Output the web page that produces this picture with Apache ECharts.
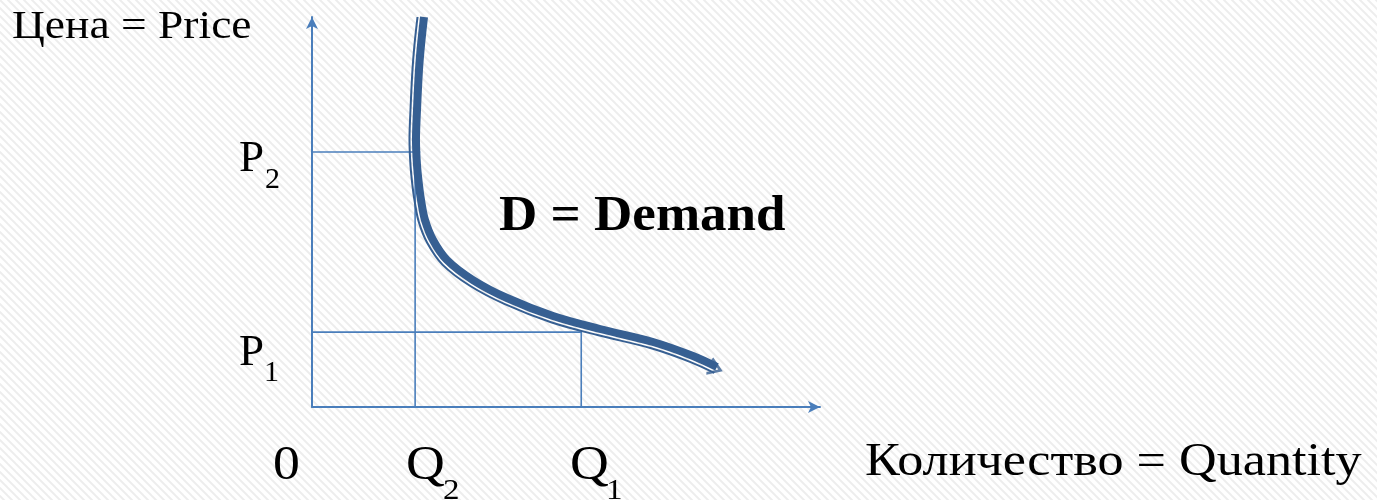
<!DOCTYPE html>
<html>
<head>
<meta charset="utf-8">
<style>
  html, body { margin: 0; padding: 0; background: #fff; }
  #main { width: 1377px; height: 500px; }
</style>
<script src="https://cdn.jsdelivr.net/npm/echarts@6/dist/echarts.min.js"></script>
</head>
<body>
<div id="main"></div>
<script>
// demand curve, outer (thick) stroke
var demandQ = [22.05, 21.46, 21.06, 20.67, 20.47, 20.67, 21.06, 21.46, 22.24, 23.82, 26.57, 31.69, 38.39, 47.44, 56.69, 67.13, 75.0, 79.72];
var demandP = [100, 92.82, 86.41, 76.15, 68.46, 62.05, 56.92, 53.08, 47.95, 42.82, 37.69, 32.56, 27.95, 23.33, 20.0, 16.67, 13.08, 10.26];
// demand curve, inner (thin) stroke
var innerQ = [20.77, 20.18, 19.78, 19.39, 19.19, 19.39, 19.78, 20.20, 21.02, 22.70, 25.67, 31.00, 37.85, 47.05, 56.38, 66.77, 74.53, 79.19];
var innerP = [100, 92.97, 86.51, 76.23, 68.46, 61.95, 56.72, 52.79, 47.46, 42.03, 36.51, 31.15, 26.44, 21.74, 18.38, 15.05, 11.51, 8.74];

// guide levels
var Q2 = 20.3, Q1 = 53, P2 = 65.4, P1 = 19.2;
var p2LineEnd = 21.3;

// labels
var xLabels = ['0', 'Q', 'Q'];
var xSubs = ['', '2', '1'];
var yLabels = ['P', 'P'];
var ySubs = ['2', '1'];

function zip(a, b) {
  var out = [];
  for (var i = 0; i < a.length; i++) out.push([a[i], b[i]]);
  return out;
}

// light diagonal hatch background
var tile = document.createElement('canvas');
tile.width = 8; tile.height = 8;
var tc = tile.getContext('2d');
tc.fillStyle = '#ffffff';
tc.fillRect(0, 0, 8, 8);
tc.strokeStyle = 'rgba(0,0,0,0.07)';
tc.lineWidth = 2;
[-8, 0, 8].forEach(function (o) {
  tc.beginPath();
  tc.moveTo(o - 1, -1);
  tc.lineTo(o + 9, 9);
  tc.stroke();
});

var axisColor = '#4a7ebb';
var curveColor = '#365f92';
var font = '"Liberation Serif", "Times New Roman", serif';

var myChart = echarts.init(document.getElementById('main'));

var guide = { color: axisColor, width: 1.6 };

var option = {
  backgroundColor: { image: tile, repeat: 'repeat' },
  animation: false,
  grid: { left: 312, top: 17, width: 508, height: 390 },
  xAxis: {
    type: 'value', min: 0, max: 100,
    axisLine: { show: true, lineStyle: { color: axisColor, width: 2 }, symbol: ['none', 'arrow'], symbolSize: [9, 12], symbolOffset: [0, 0] },
    axisTick: { show: false }, axisLabel: { show: false }, splitLine: { show: false }
  },
  yAxis: {
    type: 'value', min: 0, max: 100,
    axisLine: { show: true, onZero: false, lineStyle: { color: axisColor, width: 2 }, symbol: ['none', 'arrow'], symbolSize: [9, 12], symbolOffset: [0, 0] },
    axisTick: { show: false }, axisLabel: { show: false }, splitLine: { show: false }
  },
  series: [
    { type: 'line', data: [[0, P2], [p2LineEnd, P2]], showSymbol: false, lineStyle: guide, z: 1 },
    { type: 'line', data: [[0, P1], [Q1, P1]], showSymbol: false, lineStyle: guide, z: 1 },
    { type: 'line', data: [[Q2, 0], [Q2, P2]], showSymbol: false, lineStyle: guide, z: 1 },
    { type: 'line', data: [[Q1, 0], [Q1, P1]], showSymbol: false, lineStyle: guide, z: 1 },
    {
      type: 'line', data: zip(innerQ, innerP), smooth: 0.35, showSymbol: false,
      lineStyle: { color: curveColor, width: 2 }, z: 3
    },
    {
      type: 'line', data: zip(demandQ, demandP), smooth: 0.35, showSymbol: false,
      lineStyle: { color: curveColor, width: 8, cap: 'butt' }, z: 3
    },
    {
      type: 'scatter', data: [[demandQ[demandQ.length - 1] - 0.4, demandP[demandP.length - 1] - 0.3]],
      symbol: 'path://M0,0L10,6L0,12', symbolSize: [12, 16], symbolRotate: -22,
      itemStyle: { color: 'none', borderColor: curveColor, borderWidth: 2.5 }, z: 4
    }
  ],
  graphic: []
};

function txt(x, y, text, size, sx, bold) {
  return {
    type: 'text', x: x, y: y, z: 10, scaleX: sx || 1,
    style: {
      text: text, fill: '#000',
      font: (bold ? 'bold ' : '') + size + 'px ' + font,
      verticalAlign: 'middle', align: 'left'
    }
  };
}

option.graphic = [
  txt(12, 27, 'Цена = Price', 41, 1.11),
  txt(239, 159, yLabels[0], 45), txt(265, 180, ySubs[0], 30),
  txt(239, 353, yLabels[1], 45), txt(264, 373, ySubs[1], 30),
  txt(273, 466, xLabels[0], 48, 1.12),
  txt(406, 466, xLabels[1], 48, 1.12), txt(443, 491, xSubs[1], 30, 1.1),
  txt(570, 466, xLabels[2], 48, 1.12), txt(606, 491, xSubs[2], 30, 1.1),
  txt(865, 463, 'Количество = Quantity', 47, 1.11),
  txt(499, 217, 'D = Demand', 51, 1.04, true)
];

myChart.setOption(option);
</script>
</body>
</html>
